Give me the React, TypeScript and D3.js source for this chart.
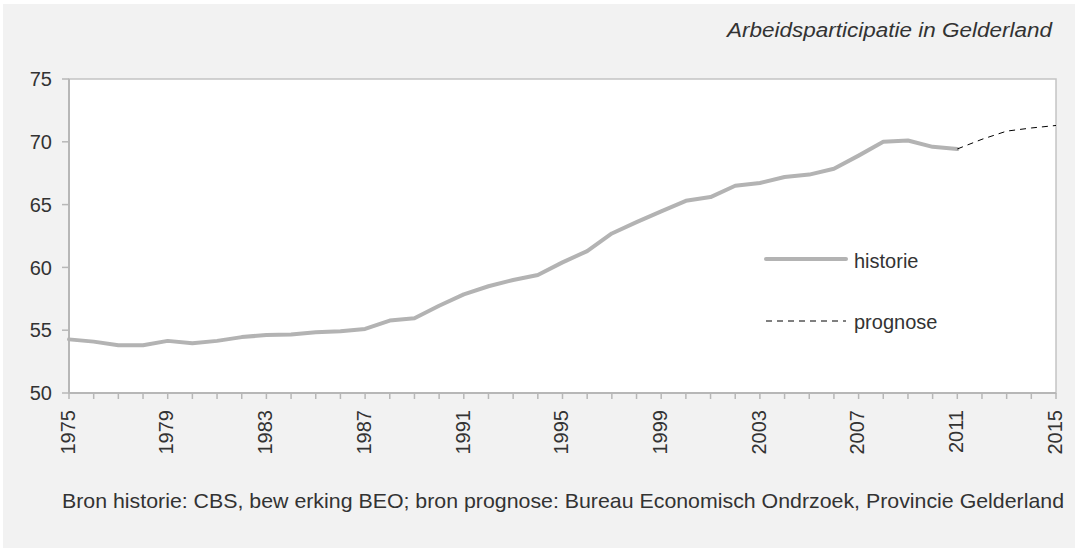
import * as d3 from 'd3';
import React from 'react';

const width = 1075;
const height = 549;
const margin = { top: 79, right: 19, bottom: 156, left: 69 };
const lineGrey = '#b3b3b3';
const axisGrey = '#b7b7b7';
const textColor = '#333333';
const font = '"Liberation Sans", Arial, sans-serif';

// historie (CBS)
const historyYears = [
  1975, 1976, 1977, 1978, 1979, 1980, 1981, 1982, 1983, 1984, 1985, 1986, 1987,
  1988, 1989, 1990, 1991, 1992, 1993, 1994, 1995, 1996, 1997, 1998, 1999, 2000,
  2001, 2002, 2003, 2004, 2005, 2006, 2007, 2008, 2009, 2010, 2011
];
const historyValues = [
  54.27, 54.09, 53.8, 53.8, 54.15, 53.96, 54.15, 54.45, 54.62, 54.65, 54.84, 54.92, 55.1,
  55.77, 55.95, 56.95, 57.85, 58.5, 59.0, 59.4, 60.4, 61.3, 62.7, 63.6, 64.46, 65.3,
  65.6, 66.5, 66.72, 67.2, 67.39, 67.85, 68.9, 70.0, 70.1, 69.6, 69.43
];

// prognose (BEO)
const forecastYears = [2011, 2012, 2013, 2014, 2015];
const forecastValues = [69.43, 70.2, 70.85, 71.1, 71.3];

const yTicks = [50, 55, 60, 65, 70, 75];
const xLabelYears = [1975, 1979, 1983, 1987, 1991, 1995, 1999, 2003, 2007, 2011, 2015];

const title = 'Arbeidsparticipatie in Gelderland';
const footer =
  'Bron historie: CBS, bew erking BEO; bron prognose: Bureau Economisch Ondrzoek, Provincie Gelderland';

const xScale = d3.scaleLinear().domain([1975, 2015]).range([margin.left, width - margin.right]);
const yScale = d3.scaleLinear().domain([50, 75]).range([height - margin.bottom, margin.top]);

const lineGenerator = d3
  .line<[number, number]>()
  .x(d => xScale(d[0]))
  .y(d => yScale(d[1]));

export default function App() {
  const history = lineGenerator(historyYears.map((y, i) => [y, historyValues[i]]));
  const forecast = lineGenerator(forecastYears.map((y, i) => [y, forecastValues[i]]));
  const [x0, x1] = xScale.range();
  const [yBottom, yTop] = yScale.range();
  const allYears = d3.range(1975, 2016);

  return (
    <svg
      width={width}
      height={height}
      style={{ position: 'absolute', left: 0, top: 0, background: '#ffffff' }}
    >
      <rect x={3} y={4} width={width - 3} height={height - 5} fill="#f2f2f2" />
      <rect x={x0} y={yTop} width={x1 - x0} height={yBottom - yTop} fill="#ffffff" stroke="#c4c4c4" strokeWidth={1.5} />

      <text
        x={727}
        y={37}
        textLength={325}
        lengthAdjust="spacingAndGlyphs"
        fontFamily={font}
        fontStyle="italic"
        fontSize={20}
        fill={textColor}
      >
        {title}
      </text>

      {/* y axis */}
      <line x1={x0} x2={x0} y1={yTop} y2={yBottom} stroke={axisGrey} strokeWidth={2} />
      {yTicks.map(t => (
        <g key={t} transform={`translate(0, ${yScale(t)})`}>
          <line x1={x0 - 7} x2={x0} stroke={axisGrey} strokeWidth={1.5} />
          <text x={52} dy="0.36em" textAnchor="end" fontFamily={font} fontSize={20} fill={textColor}>
            {t}
          </text>
        </g>
      ))}

      {/* x axis */}
      <line x1={x0} x2={x1} y1={yBottom} y2={yBottom} stroke={axisGrey} strokeWidth={2} />
      {allYears.map(yr => (
        <line key={yr} x1={xScale(yr)} x2={xScale(yr)} y1={yBottom} y2={yBottom + 6} stroke={axisGrey} strokeWidth={1.5} />
      ))}
      {xLabelYears.map(yr => (
        <text
          key={yr}
          transform={`translate(${xScale(yr) - 1.5}, ${yBottom + 17}) rotate(-90)`}
          textAnchor="end"
          dy="0.36em"
          fontFamily={font}
          fontSize={20}
          fill={textColor}
        >
          {yr}
        </text>
      ))}

      <path d={history ?? ''} fill="none" stroke={lineGrey} strokeWidth={4} strokeLinejoin="round" strokeLinecap="round" />
      <path d={forecast ?? ''} fill="none" stroke="#000000" strokeWidth={1} strokeDasharray="6,5" />

      {/* legend */}
      <line x1={766} x2={846} y1={259} y2={259} stroke={lineGrey} strokeWidth={4} strokeLinecap="round" />
      <text x={854} y={268} fontFamily={font} fontSize={20} fill={textColor}>
        historie
      </text>
      <line x1={766} x2={846} y1={321} y2={321} stroke="#000000" strokeWidth={1} strokeDasharray="6,5" />
      <text x={854} y={329} fontFamily={font} fontSize={20} fill={textColor}>
        prognose
      </text>

      <text
        x={62}
        y={508}
        textLength={1002}
        lengthAdjust="spacingAndGlyphs"
        fontFamily={font}
        fontSize={21}
        fill={textColor}
      >
        {footer}
      </text>
    </svg>
  );
}
